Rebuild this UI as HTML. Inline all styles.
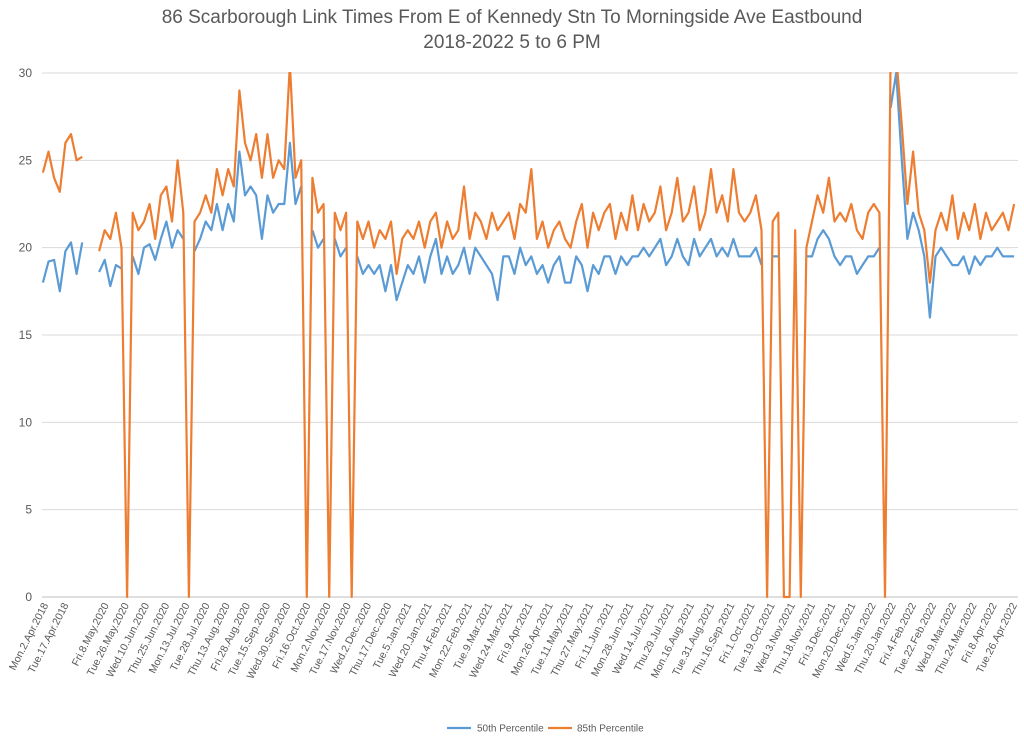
<!DOCTYPE html>
<html><head><meta charset="utf-8"><style>
body{margin:0;background:#fff;}
svg{display:block;font-family:"Liberation Sans",sans-serif;}
</style></head><body>
<svg id="chart" width="1024" height="737">
<text x="512" y="23" text-anchor="middle" font-size="19" fill="#595959">86 Scarborough Link Times From E of Kennedy Stn To Morningside Ave Eastbound</text>
<text x="512" y="48" text-anchor="middle" font-size="19" fill="#595959">2018-2022 5 to 6 PM</text>
<g id="grid"></g>
<g id="yticks"></g>
<g id="xticks"></g>
<defs><clipPath id="pc"><rect x="42" y="72" width="978" height="528"/></clipPath></defs>
<g id="series" clip-path="url(#pc)"></g>
<g>
<line x1="447" y1="728" x2="471" y2="728" stroke="#5b9bd5" stroke-width="2.2"/>
<text x="477" y="731.5" font-size="10" fill="#595959">50th Percentile</text>
<line x1="548" y1="728" x2="572" y2="728" stroke="#ed7d31" stroke-width="2.2"/>
<text x="577" y="731.5" font-size="10" fill="#595959">85th Percentile</text>
</g>
</svg>
<script>
const yTicks=[0,5,10,15,20,25,30];
const xLabels=["Mon.2.Apr.2018","Tue.17.Apr.2018","","Fri.8.May.2020","Tue.26.May.2020","Wed.10.Jun.2020","Thu.25.Jun.2020","Mon.13.Jul.2020","Tue.28.Jul.2020","Thu.13.Aug.2020","Fri.28.Aug.2020","Tue.15.Sep.2020","Wed.30.Sep.2020","Fri.16.Oct.2020","Mon.2.Nov.2020","Tue.17.Nov.2020","Wed.2.Dec.2020","Thu.17.Dec.2020","Tue.5.Jan.2021","Wed.20.Jan.2021","Thu.4.Feb.2021","Mon.22.Feb.2021","Tue.9.Mar.2021","Wed.24.Mar.2021","Fri.9.Apr.2021","Mon.26.Apr.2021","Tue.11.May.2021","Thu.27.May.2021","Fri.11.Jun.2021","Mon.28.Jun.2021","Wed.14.Jul.2021","Thu.29.Jul.2021","Mon.16.Aug.2021","Tue.31.Aug.2021","Thu.16.Sep.2021","Fri.1.Oct.2021","Tue.19.Oct.2021","Wed.3.Nov.2021","Thu.18.Nov.2021","Fri.3.Dec.2021","Mon.20.Dec.2021","Wed.5.Jan.2022","Thu.20.Jan.2022","Fri.4.Feb.2022","Tue.22.Feb.2022","Wed.9.Mar.2022","Thu.24.Mar.2022","Fri.8.Apr.2022","Tue.26.Apr.2022"];
const p85=[24.3,25.5,24,23.2,26,26.5,25,25.2,null,null,
19.8,21,20.5,22,20,0,22,21,21.5,22.5,20.5,23,23.5,21.5,25,22,0,21.5,22,23,22,24.5,23,24.5,23.5,29,26,25,26.5,24,26.5,24,25,24.5,30.5,24,25,0,24,22,22.5,0,22,21,22,0,
21.5,20.5,21.5,20,21,20.5,21.5,18.5,20.5,21,20.5,21.5,20,21.5,22,20,21.5,20.5,21,23.5,20.5,22,21.5,20.5,22,21,21.5,22,20.5,22.5,22,24.5,20.5,21.5,20,21,21.5,20.5,20,21.5,22.5,20,22,21,22,22.5,20.5,22,21,23,21,22.5,21.5,22,23.5,21,22,24,21.5,22,23.5,21,22,24.5,22,23,21.5,24.5,22,21.5,22,23,21,0,21.5,22,0,0,21,0,20,21.5,23,22,24,21.5,22,21.5,22.5,21,20.5,22,22.5,22,0,31,31,27,22.5,25.5,22,21,18,21,22,21,23,20.5,22,21,22.5,20.5,22,21,21.5,22,21,22.5];
const p50=[18,19.2,19.3,17.5,19.8,20.3,18.5,20.3,null,null,
18.6,19.3,17.8,19,18.8,null,19.5,18.5,20,20.2,19.3,20.5,21.5,20,21,20.5,null,19.8,20.5,21.5,21,22.5,21,22.5,21.5,25.5,23,23.5,23,20.5,23,22,22.5,22.5,26,22.5,23.5,null,21,20,20.5,null,20.5,19.5,20,null,
19.5,18.5,19,18.5,19,17.5,19,17,18,19,18.5,19.5,18,19.5,20.5,18.5,19.5,18.5,19,20,18.5,20,19.5,19,18.5,17,19.5,19.5,18.5,20,19,19.5,18.5,19,18,19,19.5,18,18,19.5,19,17.5,19,18.5,19.5,19.5,18.5,19.5,19,19.5,19.5,20,19.5,20,20.5,19,19.5,20.5,19.5,19,20.5,19.5,20,20.5,19.5,20,19.5,20.5,19.5,19.5,19.5,20,19,null,19.5,19.5,null,null,19.5,null,19.5,19.5,20.5,21,20.5,19.5,19,19.5,19.5,18.5,19,19.5,19.5,20,null,28,30,25,20.5,22,21,19.5,16,19.5,20,19.5,19,19,19.5,18.5,19.5,19,19.5,19.5,20,19.5,19.5,19.5];
const NS="http://www.w3.org/2000/svg";
const X0=42,X1=1018,Y0=597,Y1=73,NCAT=532,STEP=3.06,LSTEP=11,LOFF=2;
function xCat(c){return X0+(c+0.5)*(X1-X0)/NCAT;}
function xPt(i){return xCat(i*STEP);}
function yV(v){return Y0-(v/30)*(Y0-Y1);}
const grid=document.getElementById('grid'),yt=document.getElementById('yticks'),xt=document.getElementById('xticks'),ser=document.getElementById('series');
yTicks.forEach(t=>{
  const l=document.createElementNS(NS,'line');
  l.setAttribute('x1',X0);l.setAttribute('x2',X1);l.setAttribute('y1',yV(t));l.setAttribute('y2',yV(t));
  l.setAttribute('stroke',t===0?'#bfbfbf':'#d9d9d9');l.setAttribute('stroke-width','1');
  
  
  grid.appendChild(l);
  const tx=document.createElementNS(NS,'text');
  tx.setAttribute('x',32);tx.setAttribute('y',yV(t)+4);tx.setAttribute('text-anchor','end');
  tx.setAttribute('font-size','12');tx.setAttribute('fill','#595959');tx.textContent=t;
  
  
  yt.appendChild(tx);
});
xLabels.forEach((s,k)=>{
  if(!s)return;
  const x=xCat(LOFF+k*LSTEP)+2,y=605;
  const tx=document.createElementNS(NS,'text');
  tx.setAttribute('x',x);tx.setAttribute('y',y);tx.setAttribute('text-anchor','end');
  tx.setAttribute('font-size','10.5');tx.setAttribute('fill','#595959');
  tx.setAttribute('transform','rotate(-63 '+x+' '+y+')');
  tx.textContent=s;
  
  
  xt.appendChild(tx);
});
function draw(arr,color,name){
  let d='',pen=false;
  arr.forEach((v,i)=>{
    if(v===null){pen=false;return;}
    d+=(pen?'L':'M')+xPt(i).toFixed(1)+' '+yV(v).toFixed(1)+' ';pen=true;
  });
  const p=document.createElementNS(NS,'path');
  p.setAttribute('d',d);p.setAttribute('fill','none');p.setAttribute('stroke',color);
  p.setAttribute('stroke-width','2.2');p.setAttribute('stroke-linejoin','round');
  
  
  ser.appendChild(p);
}
draw(p50,'#5b9bd5','series-50th-percentile');
draw(p85,'#ed7d31','series-85th-percentile');
</script>
</body></html>
